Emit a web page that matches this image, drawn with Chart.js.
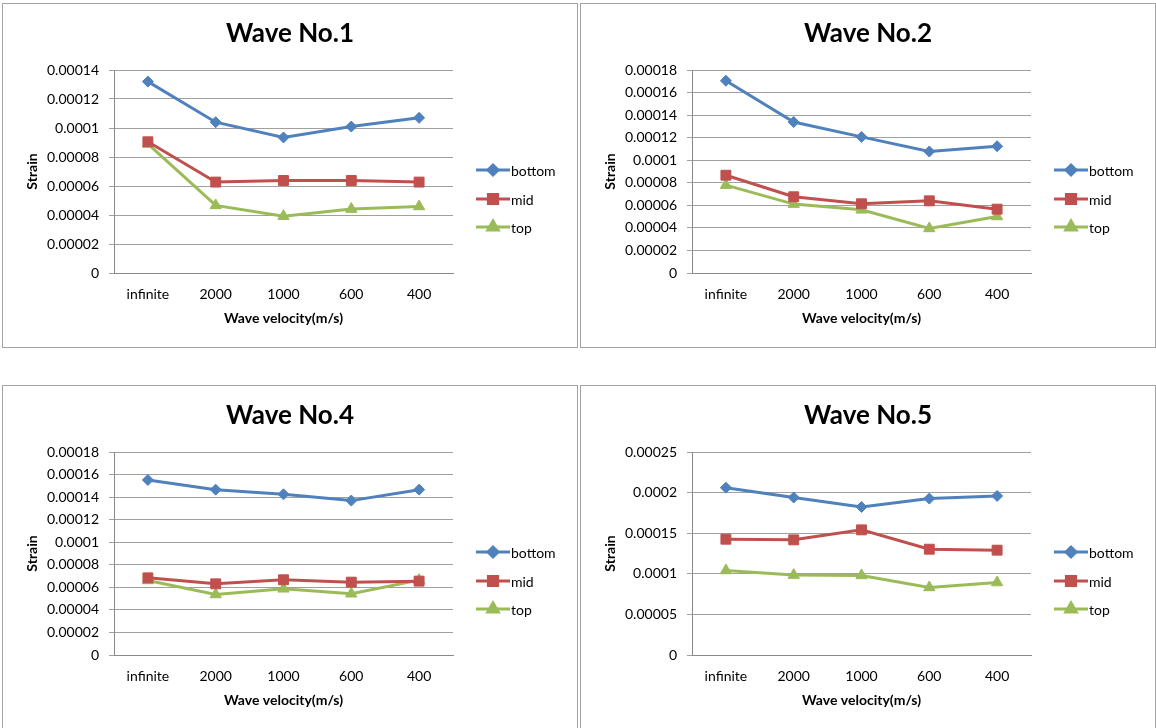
<!DOCTYPE html>
<html>
<head>
<meta charset="utf-8">
<title>Strain vs wave velocity</title>
<script src="https://cdn.jsdelivr.net/npm/chart.js@4.4.1/dist/chart.umd.min.js"></script>
<style>
  html, body { margin: 0; padding: 0; background: #fff; overflow: hidden; }
  body { width: 1156px; height: 728px; position: relative; }
  .panel { position: absolute; width: 574px; height: 343px; border: 1px solid #a3a3a3; background: #fff; }
  .panel canvas { position: absolute; left: 0; top: 0; }
</style>
</head>
<body>
<div class="panel" style="left:2px;top:3px"><canvas id="c1" width="574" height="343"></canvas></div>
<div class="panel" style="left:580px;top:3px"><canvas id="c2" width="574" height="343"></canvas></div>
<div class="panel" style="left:2px;top:385px"><canvas id="c4" width="574" height="343"></canvas></div>
<div class="panel" style="left:580px;top:385px"><canvas id="c5" width="574" height="343"></canvas></div>
<script>
  const categories = ['infinite', '2000', '1000', '600', '400'];
  const seriesNames = ['bottom', 'mid', 'top'];

  // strain values, one array per layer and wave
  const wave1Bottom = [0.000132, 0.000104, 0.0000935, 0.000101, 0.000107];
  const wave1Mid = [0.0000905, 0.0000627, 0.0000638, 0.0000638, 0.0000627];
  const wave1Top = [0.000089, 0.0000466, 0.0000392, 0.0000441, 0.0000459];

  const wave2Bottom = [0.0001705, 0.0001339, 0.0001207, 0.0001077, 0.0001124];
  const wave2Mid = [0.0000867, 0.0000676, 0.0000614, 0.000064, 0.0000566];
  const wave2Top = [0.0000779, 0.0000611, 0.000056, 0.0000395, 0.0000501];

  const wave4Bottom = [0.0001552, 0.0001466, 0.0001425, 0.0001369, 0.0001466];
  const wave4Mid = [0.0000684, 0.0000631, 0.0000667, 0.0000646, 0.0000655];
  const wave4Top = [0.0000661, 0.0000537, 0.0000587, 0.0000543, 0.0000664];

  const wave5Bottom = [0.0002061, 0.0001939, 0.0001824, 0.0001926, 0.0001959];
  const wave5Mid = [0.0001426, 0.0001418, 0.0001541, 0.0001303, 0.0001291];
  const wave5Top = [0.0001041, 0.0000984, 0.000098, 0.0000832, 0.0000893];

  // y axis ranges
  const yMaxes = [0.00014, 0.00018, 0.00018, 0.00025];
  const ySteps = [0.00002, 0.00002, 0.00002, 0.00005];

  const FONT = "Lato, 'Open Sans', sans-serif";
  const colors = ['#4f81bd', '#c0504d', '#9bbb59'];
  const markers = [
    { style: 'rectRot', radius: 5.5 },
    { style: 'rect', radius: 7 },
    { style: 'triangle', radius: 6.5 }
  ];

  // draws the chart heading and the line+marker legend on the right
  const decorPlugin = {
    id: 'decor',
    afterDraw(chart, args, opts) {
      const ctx = chart.ctx;
      ctx.save();
      ctx.fillStyle = '#000';
      ctx.textAlign = 'center';
      ctx.textBaseline = 'middle';
      ctx.font = 'bold 26px ' + FONT;
      ctx.fillText(opts.heading, chart.width / 2, 30);

      const rows = [166, 195, 223];
      ctx.font = '14px ' + FONT;
      ctx.textAlign = 'left';
      chart.data.datasets.forEach((ds, i) => {
        const y = rows[i];
        ctx.strokeStyle = ds.borderColor;
        ctx.lineWidth = 3;
        ctx.beginPath();
        ctx.moveTo(473, y);
        ctx.lineTo(507, y);
        ctx.stroke();
        ctx.fillStyle = ds.borderColor;
        Chart.helpers.drawPoint(ctx, {
          pointStyle: ds.pointStyle,
          radius: ds.pointRadius - 0.5,
          borderWidth: 1,
          rotation: 0
        }, 490, y);
        ctx.fill();
        ctx.fillStyle = '#000';
        ctx.fillText(ds.label, 508, y + 1);
      });
      ctx.restore();
    }
  };

  function tickText(v) {
    if (v === 0) return '0';
    return v.toFixed(5).replace(/0+$/, '').replace(/\.$/, '');
  }

  function makeChart(id, heading, values, yMax, yStep) {
    const datasets = values.map((vals, i) => ({
      label: seriesNames[i],
      data: vals,
      borderColor: colors[i],
      backgroundColor: colors[i],
      borderWidth: 3,
      pointStyle: markers[i].style,
      pointRadius: markers[i].radius,
      pointBorderWidth: 1,
      tension: 0
    }));

    new Chart(document.getElementById(id), {
      type: 'line',
      data: { labels: categories, datasets: datasets },
      plugins: [decorPlugin],
      options: {
        responsive: false,
        animation: false,
        devicePixelRatio: 1,
        layout: { padding: { left: 0, top: 66, right: 124, bottom: 0 } },
        plugins: {
          legend: { display: false },
          tooltip: { enabled: false },
          decor: { heading: heading }
        },
        scales: {
          x: {
            type: 'category',
            offset: true,
            grid: { display: false },
            border: { display: true, color: '#8a8a8a', width: 1 },
            ticks: { color: '#000', padding: 5, maxRotation: 0, font: { family: FONT, size: 14 } },
            title: {
              display: true,
              text: 'Wave velocity(m/s)',
              color: '#000',
              font: { family: FONT, size: 14, weight: 'bold' },
              padding: { top: 0, bottom: 20 }
            },
            afterFit(scale) { scale.height = 74; }
          },
          y: {
            min: 0,
            max: yMax,
            grid: { color: '#a0a0a0', lineWidth: 1, drawTicks: true, tickLength: 5 },
            border: { display: true, color: '#8a8a8a', width: 1 },
            ticks: {
              stepSize: yStep,
              padding: 10,
              color: '#000',
              font: { family: FONT, size: 14 },
              callback: (v) => tickText(v)
            },
            title: {
              display: true,
              text: 'Strain',
              color: '#000',
              font: { family: FONT, size: 14, weight: 'bold' },
              padding: { top: 21, bottom: 0 }
            },
            afterFit(scale) { scale.width = 111; }
          }
        }
      }
    });
  }

  makeChart('c1', 'Wave No.1', [wave1Bottom, wave1Mid, wave1Top], yMaxes[0], ySteps[0]);
  makeChart('c2', 'Wave No.2', [wave2Bottom, wave2Mid, wave2Top], yMaxes[1], ySteps[1]);
  makeChart('c4', 'Wave No.4', [wave4Bottom, wave4Mid, wave4Top], yMaxes[2], ySteps[2]);
  makeChart('c5', 'Wave No.5', [wave5Bottom, wave5Mid, wave5Top], yMaxes[3], ySteps[3]);
</script>
</body>
</html>
